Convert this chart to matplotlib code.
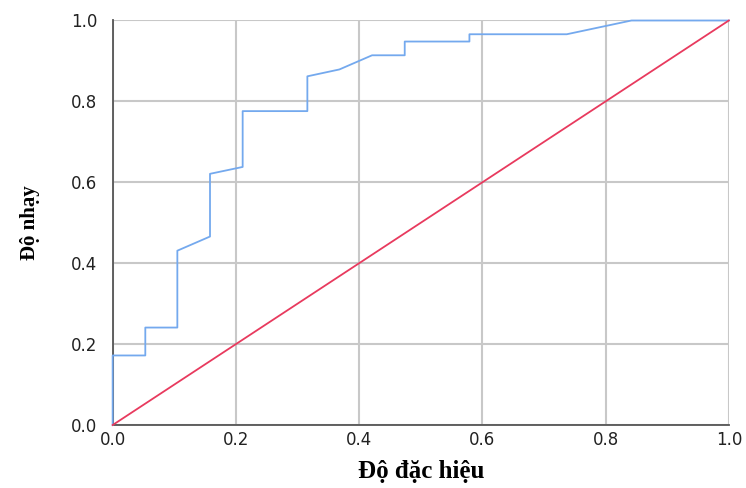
import matplotlib
matplotlib.use('Agg')
import matplotlib.pyplot as plt

# ROC curve points (1 - specificity, sensitivity)
fpr = [0.0, 0.0, 0.053, 0.053, 0.105, 0.105, 0.158, 0.158, 0.211, 0.211,
       0.316, 0.316, 0.368, 0.421, 0.474, 0.474, 0.579, 0.579, 0.737, 0.842, 1.0]
tpr = [0.0, 0.172, 0.172, 0.241, 0.241, 0.431, 0.466, 0.621, 0.638, 0.776,
       0.776, 0.862, 0.879, 0.914, 0.914, 0.948, 0.948, 0.966, 0.966, 1.0, 1.0]

# reference diagonal
ref_x = [0.0, 1.0]
ref_y = [0.0, 1.0]

ticks = [0.0, 0.2, 0.4, 0.6, 0.8, 1.0]
tick_labels = ['0.0', '0.2', '0.4', '0.6', '0.8', '1.0']

fig = plt.figure(figsize=(7.46, 4.88), dpi=100)
ax = fig.add_axes([0.151, 0.129, 0.826, 0.829])

ax.plot(fpr, tpr, color='#74a9ee', lw=1.3, zorder=5, clip_on=False)
ax.plot(ref_x, ref_y, color='#e83a5e', lw=1.3, zorder=5, clip_on=False)

ax.set_xlim(0, 1)
ax.set_ylim(0, 1)
ax.set_xticks(ticks)
ax.set_yticks(ticks)
ax.set_xticklabels(tick_labels, fontsize=12, color='#222222', family='DejaVu Sans')
ax.set_yticklabels(tick_labels, fontsize=12, color='#222222', family='DejaVu Sans')
ax.tick_params(length=0)
ax.tick_params(axis='y', pad=11)
ax.tick_params(axis='x', pad=4)

ax.grid(True, color='#c8c8c8', lw=1.5)
ax.set_axisbelow(True)
for side in ['top', 'right']:
    ax.spines[side].set_visible(False)
for side in ['left', 'bottom']:
    ax.spines[side].set_color('#555555')
    ax.spines[side].set_linewidth(1.3)
    ax.spines[side].set_zorder(4)

ax.set_xlabel('Độ đặc hiệu', fontsize=18, fontweight='bold',
              family='Liberation Serif', labelpad=8)
ax.set_ylabel('Độ nhạy', fontsize=15, fontweight='bold',
              family='Liberation Serif', labelpad=22)

fig.savefig('out.png', dpi=100, facecolor='white')
